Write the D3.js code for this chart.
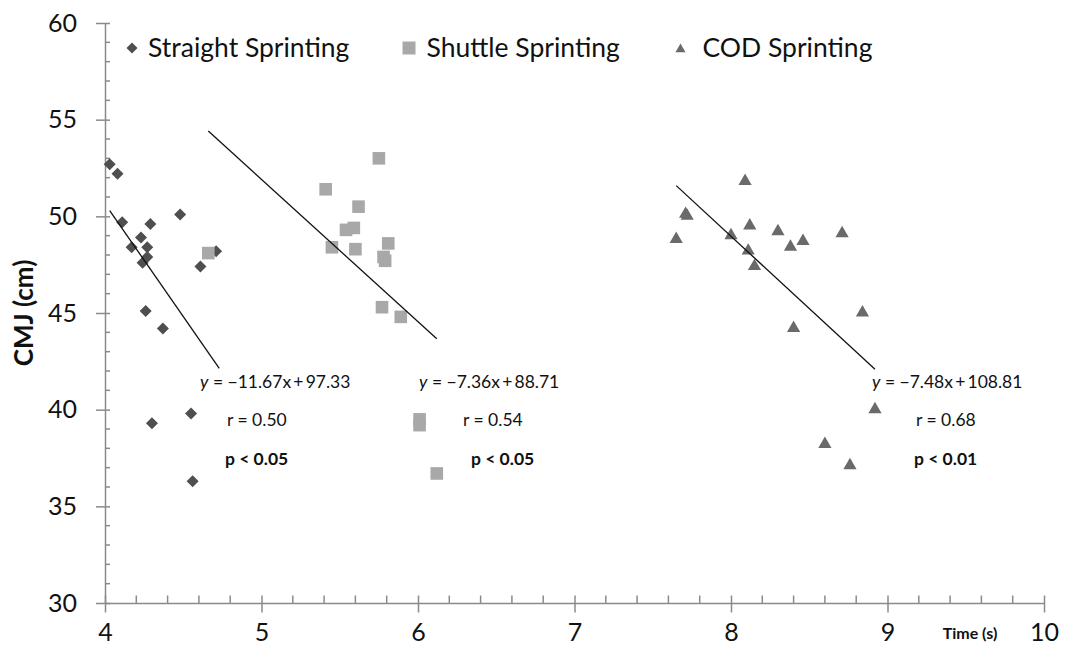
<!DOCTYPE html>
<html><head><meta charset="utf-8">
<script src="https://cdn.jsdelivr.net/npm/d3@7"></script>
<style>body{margin:0;background:#fff}svg{display:block}text{font-family:Lato,"Open Sans",sans-serif}</style>
</head><body><svg id="c" width="1065" height="652"></svg>
<script>
// ---- data ----
const seriesNames = ["Straight Sprinting", "Shuttle Sprinting", "COD Sprinting"];
const straightX = [4.03,4.08,4.11,4.29,4.48,4.23,4.17,4.27,4.27,4.24,4.71,4.61,4.26,4.37,4.55,4.30,4.56];
const straightY = [52.7,52.2,49.7,49.6,50.1,48.9,48.4,48.4,47.9,47.6,48.2,47.4,45.1,44.2,39.8,39.3,36.3];
const shuttleX = [5.75,5.41,5.62,5.59,5.54,5.45,5.60,5.81,5.78,5.79,5.77,5.89,6.01,6.01,6.12,4.66];
const shuttleY = [53.0,51.4,50.5,49.4,49.3,48.4,48.3,48.6,47.9,47.7,45.3,44.8,39.5,39.2,36.7,48.1];
const codX = [8.09,7.71,7.72,7.65,8.12,8.00,8.30,8.46,8.38,8.71,8.11,8.15,8.84,8.40,8.92,8.60,8.76];
const codY = [51.9,50.2,50.1,48.9,49.6,49.1,49.3,48.8,48.5,49.2,48.3,47.5,45.1,44.3,40.1,38.3,37.2];
const slopes = [-11.67, -7.36, -7.48];
const intercepts = [97.33, 88.71, 108.81];
const fitRanges = [[4.03,4.73],[4.66,6.12],[7.65,8.92]];
const eqLabels = ["\u221211.67x\u2009+\u200997.33", "\u22127.36x\u2009+\u200988.71", "\u22127.48x\u2009+\u2009108.81"];
const rLabels = ["r = 0.50", "r = 0.54", "r = 0.68"];
const pLabels = ["p < 0.05", "p < 0.05", "p < 0.01"];
const xTicks = [4,5,6,7,8,9,10];
const yTicks = [30,35,40,45,50,55,60];

// ---- layout ----
const svg = d3.select("#c");
const x = d3.scaleLinear().domain([4,10]).range([105,1044]);
const y = d3.scaleLinear().domain([30,60]).range([603,23]);
const axisCol = "#8a8a8a";
const colors = ["#4f4f4f", "#a8a8a8", "#6a6a6a"];

// minor ticks
const minorY = d3.range(31,60,1).filter(v => v % 5 !== 0);
svg.append("g").selectAll("line").data(minorY).join("line")
  .attr("x1", x(4)).attr("x2", x(4)+5).attr("y1", d=>y(d)).attr("y2", d=>y(d))
  .attr("stroke", axisCol).attr("stroke-width", 1.5);
const minorX = d3.range(4.2,10,0.2).filter(v => Math.abs(v-Math.round(v))>0.01);
svg.append("g").selectAll("line").data(minorX).join("line")
  .attr("x1", d=>x(d)).attr("x2", d=>x(d)).attr("y1", y(30)).attr("y2", y(30)-7.5)
  .attr("stroke", axisCol).attr("stroke-width", 1.5);

// y axis
const gy = svg.append("g").attr("transform", `translate(${x(4)},0)`)
  .call(d3.axisLeft(y).tickValues(yTicks).tickSizeInner(9).tickSizeOuter(0).tickPadding(19));
gy.select(".domain").attr("stroke", axisCol).attr("stroke-width", 1.5);
gy.selectAll(".tick line").attr("x1", 5).attr("stroke", axisCol).attr("stroke-width", 1.5);
gy.selectAll(".tick text").attr("font-size", 25).attr("fill", "#111").style("font-family","Lato");

// x axis
const gx = svg.append("g").attr("transform", `translate(0,${y(30)})`)
  .call(d3.axisBottom(x).tickValues(xTicks).tickSizeInner(9.5).tickSizeOuter(0).tickPadding(11).tickFormat(d3.format("d")));
gx.select(".domain").attr("stroke", axisCol).attr("stroke-width", 1.5);
gx.selectAll(".tick line").attr("y1", -7.5).attr("stroke", axisCol).attr("stroke-width", 1.5);
gx.selectAll(".tick text").attr("font-size", 25).attr("fill", "#111").style("font-family","Lato");

// axis titles
svg.append("text").attr("transform", "translate(33,313) rotate(-90)")
  .attr("text-anchor", "middle").attr("font-size", 26).attr("font-weight", "bold").attr("fill","#111")
  .text("CMJ (cm)");
svg.append("text").attr("x", 970).attr("y", 639).attr("text-anchor","middle")
  .attr("font-size", 16).attr("font-weight","bold").attr("fill","#111").text("Time (s)");

// symbols
const symPath = [
  s => `M0,${-s}L${s},0L0,${s}L${-s},0Z`,
  s => `M${-s},${-s}H${s}V${s}H${-s}Z`,
  s => `M0,${-s*1.0}L${s*1.1},${s*0.9}L${-s*1.1},${s*0.9}Z`
];
const sizes = [6, 6.3, 6];
const data = [
  straightX.map((v,i)=>({x:v,y:straightY[i]})),
  shuttleX.map((v,i)=>({x:v,y:shuttleY[i]})),
  codX.map((v,i)=>({x:v,y:codY[i]}))
];
data.forEach((pts,k) => {
  svg.append("g").selectAll("path").data(pts).join("path")
    .attr("transform", d=>`translate(${x(d.x)},${y(d.y)})`)
    .attr("d", symPath[k](sizes[k])).attr("fill", colors[k]);
});

// trend lines
fitRanges.forEach((r,k) => {
  svg.append("line")
    .attr("x1", x(r[0])).attr("y1", y(slopes[k]*r[0]+intercepts[k]))
    .attr("x2", x(r[1])).attr("y2", y(slopes[k]*r[1]+intercepts[k]))
    .attr("stroke", "#111").attr("stroke-width", 1.3);
});

// annotations
const eqX = [200, 419, 872], rX = [227, 463, 916], pX = [225, 471, 914];
eqX.forEach((ex,k) => {
  const t = svg.append("text").attr("x", ex).attr("y", 388).attr("font-size", 17.5).attr("fill","#111");
  t.append("tspan").attr("font-style","italic").text("y");
  t.append("tspan").text(" = " + eqLabels[k]);
  svg.append("text").attr("x", rX[k]).attr("y", 426).attr("font-size", 17.5).attr("fill","#111").text(rLabels[k]);
  svg.append("text").attr("x", pX[k]).attr("y", 465).attr("font-size", 17.5).attr("font-weight","bold").attr("fill","#111").text(pLabels[k]);
});

// legend
const legX = [132, 409, 680.5];
const legText = [148, 426.5, 702.5];
const legSize = [5.5, 6.5, 4.6];
seriesNames.forEach((n,k) => {
  svg.append("path").attr("transform", `translate(${legX[k]},48)`).attr("d", symPath[k](legSize[k])).attr("fill", colors[k]);
  svg.append("text").attr("x", legText[k]).attr("y", 57).attr("font-size", 26.5).attr("fill","#111").text(n);
});
</script></body></html>
